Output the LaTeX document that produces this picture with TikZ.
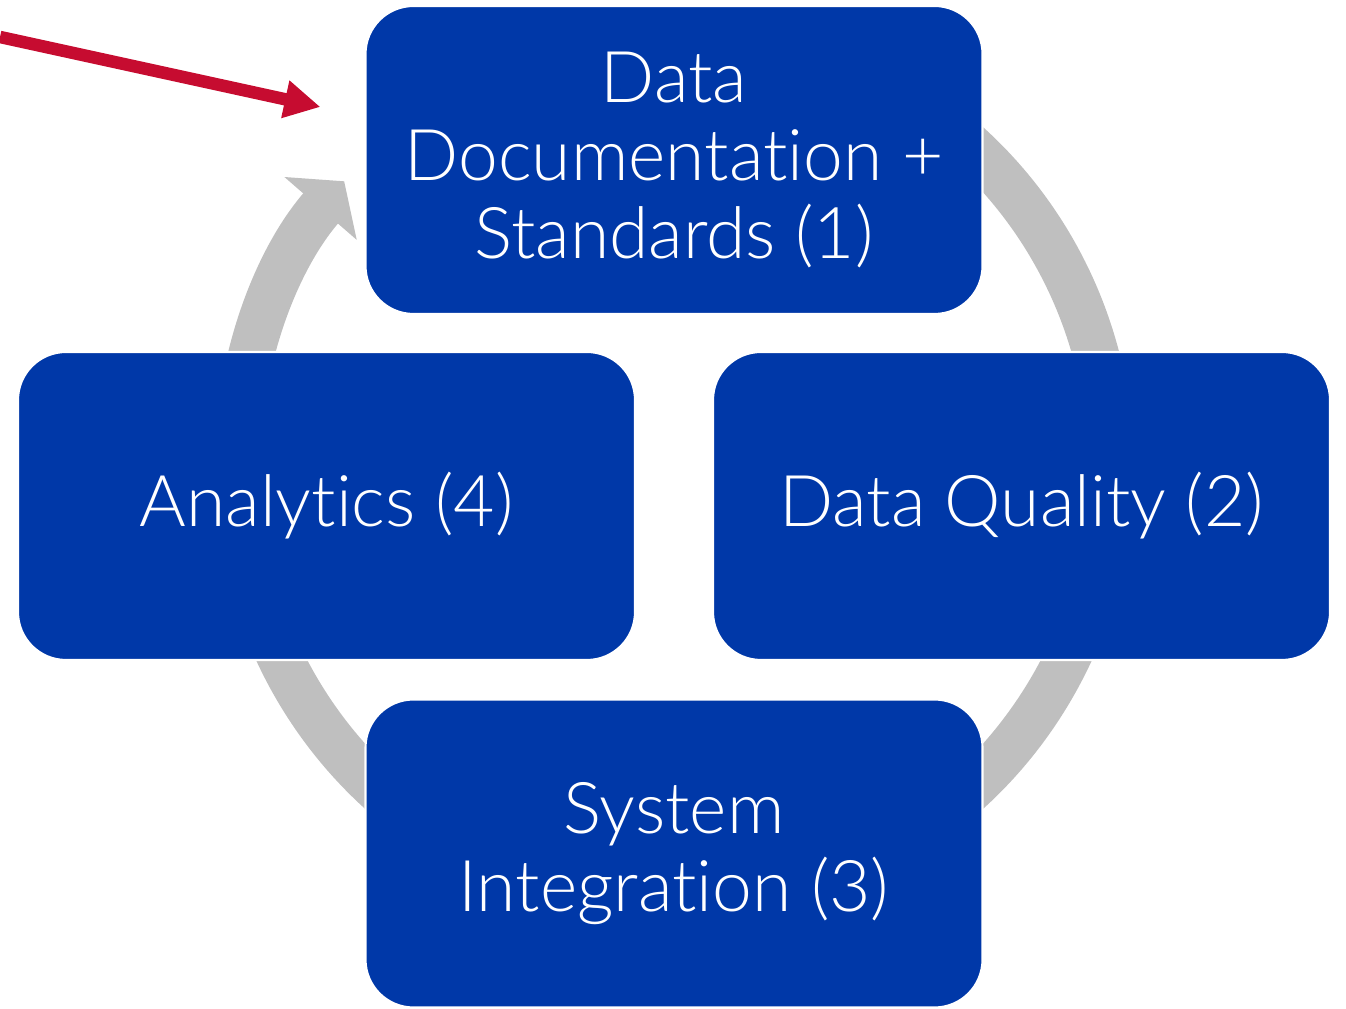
\documentclass[tikz,border=0pt]{standalone}
\usepackage{fontspec}
\IfFontExistsTF{Lato Light}{\setmainfont{Lato Light}[Ligatures=NoCommon]}{\setmainfont{Lato}[Ligatures=NoCommon]}
\usepackage{tikz}
\usetikzlibrary{calc}
\usetikzlibrary{arrows.meta}
\usetikzlibrary{positioning}
\definecolor{stageblue}{RGB}{0,56,168}
\definecolor{ringgray}{RGB}{191,191,191}
\definecolor{pointred}{RGB}{198,12,48}
\tikzset{>=latex}
\tikzstyle{stage} = [rectangle, rounded corners=0.48cm, fill=stageblue, draw=white, line width=0.6pt, minimum width=6.17cm, minimum height=3.08cm, text=white, align=center, font=\fontsize{20.3}{22.2}\selectfont]
\tikzstyle{cycle} = [draw=ringgray, line width=0.46cm, -{Triangle[length=0.36cm, width=0.94cm]}]
\tikzstyle{pointer} = [draw=pointred, line width=0.125cm, -{Triangle[length=0.36cm, width=0.36cm]}]

\begin{document}
\begin{tikzpicture}
\useasboundingbox (0,0) rectangle (13.46,10.08);
%\node [draw=none] at (6.74,5.4) {cycle};
\coordinate (O) at (6.74, 5.40);
\draw [cycle] (O) ++(60:4.37) arc[start angle=60, end angle=-221, radius=4.37];
\node [stage] (D) at (6.74, 8.48) {Data\\Documentation +\\Standards (1)};
\node [stage] (Q) at (10.215, 5.02) {Data Quality (2)};
\node [stage] (S) at (6.74, 1.545) {System\\Integration (3)};
\node [stage] (A) at (3.265, 5.02) {Analytics (4)};
\coordinate (P) at (0, 9.71);
\draw [pointer] (P) to ($(D.west)+(-0.44, 0.53)$);
\end{tikzpicture}
\end{document}
